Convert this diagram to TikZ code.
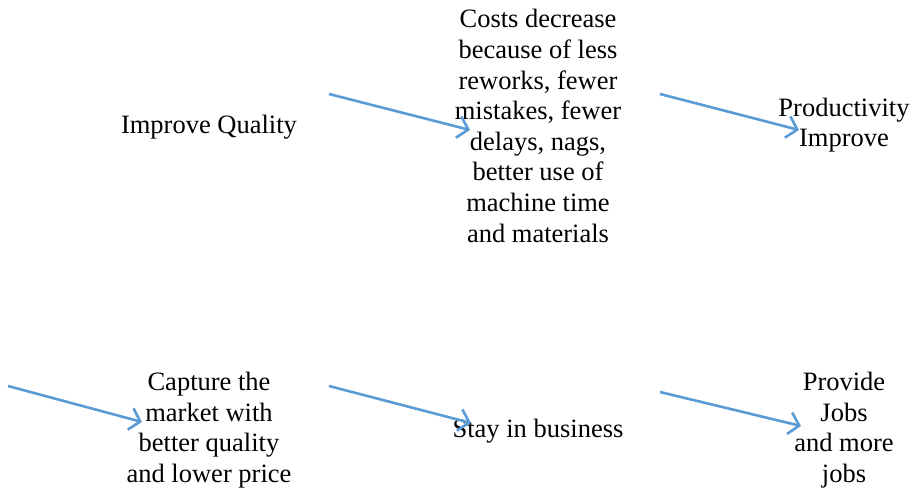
\documentclass[tikz,border=0pt]{standalone}
\usepackage{fontspec}
\setmainfont{Liberation Serif}
\usetikzlibrary{arrows.meta}
\definecolor{flowblue}{HTML}{5B9BD5}

\begin{document}
\begin{tikzpicture}[x=1pt, y=-1pt,
    txt/.style={align=center, inner sep=0pt, font=\fontsize{26.5}{30.6}\selectfont},
    flow/.style={draw=flowblue, line width=2.6pt, -{Straight Barb[length=10pt, width=22pt, line width=2.6pt]}}]
  \useasboundingbox (0,0) rectangle (913,489);

  % top row
  \node[txt] (quality) at (209,127) {Improve Quality};
  \node[txt] (costs) at (538,126) {Costs decrease\\because of less\\reworks, fewer\\mistakes, fewer\\delays, nags,\\better use of\\machine time\\and materials};
  \node[txt] (product) at (844,125) {Productivity\\Improve};

  % bottom row
  \node[txt] (capture) at (209,430) {Capture the\\market with\\better quality\\and lower price};
  \node[txt] (stay) at (538,431) {Stay in business};
  \node[txt] (jobs) at (844,430) {Provide\\Jobs\\and more\\jobs};
  \coordinate (loopin) at (8,386);

  \draw[flow] ([shift={(120,-33)}]quality.center) -- ([shift={(-68,4)}]costs.center);
  \draw[flow] ([shift={(122,-32)}]costs.center) -- ([shift={(-45,5)}]product.center);
  \draw[flow] (loopin) -- ([shift={(-67,-8)}]capture.center);
  \draw[flow] ([shift={(120,-44)}]capture.center) -- ([shift={(-67,-8)}]stay.center);
  \draw[flow] ([shift={(122,-39)}]stay.center) -- ([shift={(-43,-4)}]jobs.center);
\end{tikzpicture}
\end{document}
